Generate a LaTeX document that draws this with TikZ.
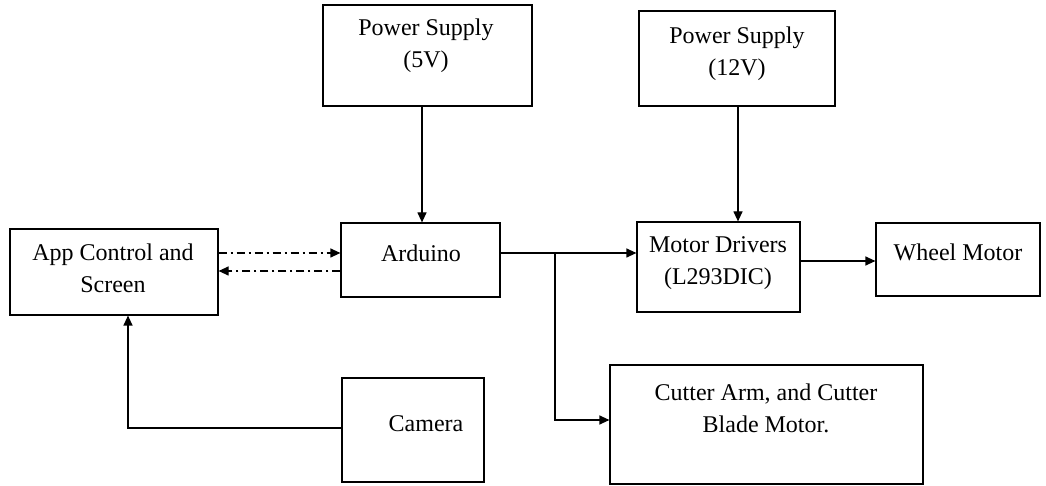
\documentclass[tikz,border=0pt]{standalone}
\usepackage{fontspec}
\setmainfont{Liberation Serif}
\usetikzlibrary{fit,arrows.meta}
\begin{document}
\begin{tikzpicture}[x=0.5pt,y=-0.5pt,
  box/.style={draw,line width=0.6pt,inner sep=0pt,rectangle},
  txt/.style={align=center,inner sep=0pt,font=\fontsize{12}{16}\selectfont},
  arr/.style={line width=0.6pt,-{Triangle[length=5pt,width=4.5pt]}},
  dd/.style={arr,dash pattern=on 4pt off 2pt on 1pt off 2pt}]
\useasboundingbox (0,0) rectangle (1046,486);
% boxes
\node[box,fit={(323,5) (532,106)}] (ps5) {};
\node[box,fit={(639,11) (835,106)}] (ps12) {};
\node[box,fit={(341,223) (500,297)}] (ard) {};
\node[box,fit={(637,222) (800,312)}] (md) {};
\node[box,fit={(876,223) (1040,296)}] (wheel) {};
\node[box,fit={(10,229) (218,315)}] (app) {};
\node[box,fit={(342,378) (484,482)}] (cam) {};
\node[box,fit={(610,365) (923,484)}] (cut) {};
% texts
\node[txt] (ps5t) at (426,46) {Power Supply\\(5V)};
\node[txt] (ps12t) at (737,54) {Power Supply\\(12V)};
\node[txt] (ardt) at (421,253) {Arduino};
\node[txt] (mdt) at (718,263) {Motor Drivers\\(L293DIC)};
\node[txt] (wheelt) at (958,252) {Wheel Motor};
\node[txt] (appt) at (113,268) {App Control and\\Screen};
\node[txt] (camt) at (426,424) {Camera};
\node[txt] (cutt) at (766,408) {Cutter Arm, and Cutter\\Blade Motor.};
% connectors
\draw[arr] (ps5.south -| 422,0) -- (ard.north -| 422,0);
\draw[arr] (ps12.south -| 738,0) -- (md.north -| 738,0);
\draw[arr] (ard.east |- 0,253) -- (md.west |- 0,253);
\coordinate (br) at (555,253);
\draw[arr] (br) |- (cut.west |- 0,420);
\draw[arr] (md.east |- 0,261) -- (wheel.west |- 0,261);
\draw[dd] (app.east |- 0,253) -- (ard.west |- 0,253);
\draw[dd] (ard.west |- 0,271) -- (app.east |- 0,271);
\draw[arr] (cam.west |- 0,428) -| (app.south -| 128,0);
\end{tikzpicture}
\end{document}
